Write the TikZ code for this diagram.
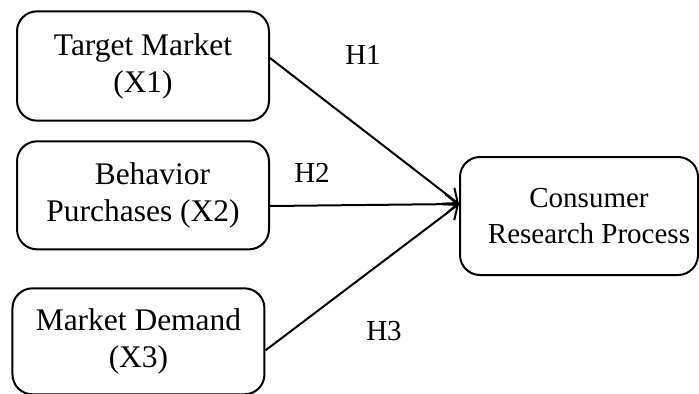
\documentclass[tikz,border=0pt]{standalone}
\usepackage{fontspec}
\setmainfont{Liberation Serif}
\usetikzlibrary{arrows.meta, positioning}
\tikzset{
    varbox/.style = {draw=black, line width=1.5pt, rounded corners=15pt,
        align=center, inner sep=0pt, minimum width=189pt, minimum height=82pt,
        font=\fontsize{23.6}{27.75}\selectfont},
    procbox/.style = {varbox, minimum width=178.5pt, minimum height=88.5pt,
        font=\fontsize{21.75}{26.5}\selectfont},
    hlabel/.style = {inner sep=0pt, font=\fontsize{21.75}{26.25}\selectfont},
}
\begin{document}
\begin{tikzpicture}[x=0.75pt, y=-0.75pt, ->, >={Straight Barb[length=9pt,width=15pt]}, line width=1.5pt]
            \useasboundingbox (0,0) rectangle (699,393);
            \node (b1) [varbox] at (143,66) {Target Market\\(X1)};
            \node (b2) [varbox, below=14pt of b1, minimum height=81pt] {\hspace*{0.6em}Behavior\\Purchases (X2)};
            \node (b3) [varbox, below=27.75pt of b2, xshift=-3.4pt, minimum height=79.5pt] {Market Demand\\(X3)};
            \node (b4) [procbox] at (579,216) {\hspace*{15pt}Consumer\\\hspace*{15pt}Research Process};
            \coordinate (in) at ([yshift=9pt]b4.west);
            % paths into the process box
            \draw ([yshift=6pt]b1.east) -- (in);
            \draw ([yshift=-8pt]b2.east) -- (in);
            \draw ([yshift=-6.75pt]b3.east) -- (in);
            \node (h1) [hlabel] at (363,55) {H1};
            \node (h2) [hlabel] at (312,173) {H2};
            \node (h3) [hlabel] at (384,331) {H3};
\end{tikzpicture}
\end{document}
